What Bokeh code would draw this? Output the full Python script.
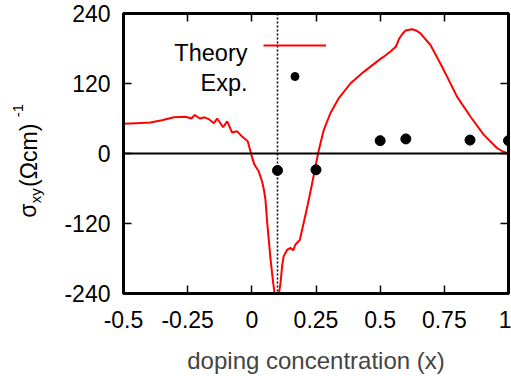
import math
from bokeh.plotting import figure
from bokeh.layouts import row
from bokeh.models import (Range1d, FixedTicker, LinearAxis, Span, Label, Legend,
                          LegendItem, ColumnDataSource)
from bokeh.embed import file_html
from bokeh.resources import INLINE
from bokeh.core.properties import value

# ---------------- data ----------------
theory_x = [-0.5, -0.45, -0.395, -0.35, -0.304, -0.258, -0.236, -0.222, -0.203, -0.185,
            -0.168, -0.148, -0.135, -0.112, -0.096, -0.077, -0.057, -0.038, -0.016, -0.008,
            0.0, 0.010, 0.027, 0.040, 0.047, 0.053, 0.060, 0.073, 0.083, 0.090,
            0.100, 0.105, 0.112, 0.118, 0.124, 0.138, 0.151, 0.161, 0.170, 0.187,
            0.202, 0.222, 0.235, 0.248, 0.261, 0.280, 0.306, 0.339, 0.384, 0.436,
            0.495, 0.514, 0.540, 0.561, 0.574, 0.585, 0.599, 0.624, 0.640, 0.657,
            0.696, 0.748, 0.800, 0.852, 0.904, 0.956, 0.980, 1.0]
theory_y = [51, 52, 53, 57, 62, 63, 60, 66, 60, 62,
            59, 52, 60, 45, 55, 36, 38, 29, 21, 8,
            -5, -19, -31, -48, -62, -79, -119, -182, -221, -245,
            -248, -242, -221, -193, -176, -165, -162, -166, -156, -148,
            -119, -79, -51, -22, 6, 40, 69, 95, 120, 140,
            160, 166, 175, 183, 197, 204, 211, 213, 211, 206,
            186, 143, 97, 63, 32, 9, 3, 0]

exp_x = [0.1, 0.25, 0.5, 0.6, 0.85, 1.0]
exp_y = [-29, -28, 22, 25, 23, 22]

x_ticks = [-0.5, -0.25, 0, 0.25, 0.5, 0.75, 1]
x_tick_labels = ["-0.5", "-0.25", "0", "0.25", "0.5", "0.75", "1"]
y_ticks = [-240, -120, 0, 120, 240]
y_tick_labels = ["-240", "-120", "0", "120", "240"]

x_limits = (-0.5, 1.0)
y_limits = (-240, 240)
marker_line_x = 0.1
zero_level = 0

series_names = ["Theory", "Exp."]
x_title = "doping concentration (x)"
# y title  sigma_xy (Ohm cm)^-1  as pieces: main, subscript, main, superscript
y_title_texts = ["σ", "xy", "(Ωcm)", "-1"]
y_title_is_small = [False, True, False, True]

# ---------------- style ----------------
FONT = "Liberation Sans"
FS_TICK = "23px"
FS_LEG = "23.5px"
FS_XLAB = "24px"
FS_YLAB = "23px"
FS_SMALL = "15px"
W, H = 511, 376
LAB_W = 50            # width of the strip that holds the rotated y title
B_TOP, B_BOTTOM = 13, 82   # plot borders (frames of both parts are aligned)

# ---------- strip with the y-axis title (pixel coordinates, y up) ----------
lab = figure(width=LAB_W, height=H, x_range=Range1d(0, LAB_W),
             y_range=Range1d(B_BOTTOM, H - B_TOP),
             output_backend="svg", toolbar_location=None,
             x_axis_location=None, y_axis_location=None,
             min_border=0, min_border_left=0, min_border_right=0,
             min_border_top=B_TOP, min_border_bottom=B_BOTTOM)
lab.outline_line_color = None
lab.background_fill_color = "white"
lab.border_fill_color = "white"
lab.grid.visible = False
# anchor of each piece: middle of its line box (x) and start of text (y), strip pixels
piece_x = [27.5, 34.8, 28.0, 17.0]
piece_y = [H - 218, H - 203.5, H - 187, H - 117]
for txt, small, px, py in zip(y_title_texts, y_title_is_small, piece_x, piece_y):
    lab.text(x=[px], y=[py], text=[txt], angle=math.pi / 2,
             text_font=value(FONT), text_font_size=value(FS_SMALL if small else FS_YLAB),
             text_color="black", text_align="left", text_baseline="middle")

# ---------------- main plot ----------------
p = figure(width=W - LAB_W, height=H, x_range=Range1d(*x_limits), y_range=Range1d(*y_limits),
           output_backend="svg", toolbar_location=None,
           min_border_left=123 - LAB_W, min_border_right=3, min_border_top=B_TOP,
           min_border_bottom=B_BOTTOM)
p.background_fill_color = "white"
p.border_fill_color = "white"
p.grid.visible = False
p.outline_line_color = "black"
p.outline_line_width = 3

# reference lines
p.add_layout(Span(location=zero_level, dimension="width", line_color="black", line_width=2))
p.add_layout(Span(location=marker_line_x, dimension="height", line_color="black",
                  line_width=1.5, line_dash="2 2"))

theory_src = ColumnDataSource(dict(x=theory_x, y=theory_y))
exp_src = ColumnDataSource(dict(x=exp_x, y=exp_y))
theory_r = p.line("x", "y", source=theory_src, line_color="#ff0000", line_width=2)
exp_r = p.scatter("x", "y", source=exp_src, size=10, fill_color="black", line_color="black")


def style_axis(ax, show_labels):
    ax.axis_line_width = 3
    ax.axis_line_color = "black"
    ax.major_tick_in = 8
    ax.major_tick_out = 0
    ax.minor_tick_out = 0
    ax.minor_tick_in = 0
    ax.major_tick_line_width = 1.5
    ax.major_tick_line_color = "black"
    ax.minor_tick_line_color = None
    ax.major_label_text_font = FONT
    ax.major_label_text_color = "black"
    if show_labels:
        ax.major_label_text_font_size = FS_TICK
    else:
        ax.major_label_text_font_size = "0px"
        ax.major_label_standoff = 0


xa = p.xaxis[0]
ya = p.yaxis[0]
xa.ticker = FixedTicker(ticks=x_ticks)
ya.ticker = FixedTicker(ticks=y_ticks)
xa.major_label_overrides = {t: s for t, s in zip(x_ticks, x_tick_labels)}
ya.major_label_overrides = {t: s for t, s in zip(y_ticks, y_tick_labels)}
style_axis(xa, True)
style_axis(ya, True)
xa.major_label_standoff = 17
ya.major_label_standoff = 13
xa.axis_label = x_title
xa.axis_label_text_font = FONT
xa.axis_label_text_font_size = FS_XLAB
xa.axis_label_text_font_style = "normal"
xa.axis_label_standoff = 16

top_ax = LinearAxis(ticker=FixedTicker(ticks=x_ticks))
right_ax = LinearAxis(ticker=FixedTicker(ticks=y_ticks))
style_axis(top_ax, False)
style_axis(right_ax, False)
top_ax.major_label_overrides = {t: "" for t in x_ticks}
right_ax.major_label_overrides = {t: "" for t in y_ticks}
p.add_layout(top_ax, "above")
p.add_layout(right_ax, "right")

# legend: texts with the samples drawn to their right (gnuplot style)
for name, sy in zip(series_names, [241, 211]):
    p.add_layout(Label(x=124, y=sy, x_units="screen", y_units="screen", text=name,
                       text_font=FONT, text_font_size=FS_LEG, text_color="black",
                       text_align="right", text_baseline="alphabetic"))

legend = Legend(items=[LegendItem(label=value(" "), renderers=[theory_r]),
                       LegendItem(label=value(" "), renderers=[exp_r])],
                location=(140, 207), glyph_width=63, glyph_height=20, label_width=0,
                label_height=20, label_standoff=0, padding=0, margin=0, spacing=11,
                border_line_color=None, background_fill_alpha=0,
                label_text_font_size="1px")
p.add_layout(legend)

layout = row(lab, p)
open("out.html", "w").write(file_html(layout, INLINE))
